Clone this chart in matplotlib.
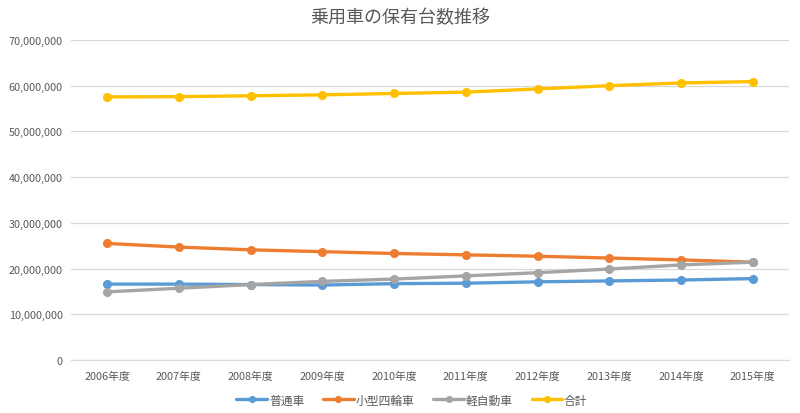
import matplotlib
matplotlib.use("Agg")
import matplotlib.pyplot as plt
from matplotlib.ticker import FuncFormatter

plt.rcParams['font.family'] = ['Noto Sans CJK JP', 'DejaVu Sans']

categories = ['2006年度', '2007年度', '2008年度', '2009年度', '2010年度',
              '2011年度', '2012年度', '2013年度', '2014年度', '2015年度']
futsu = [16.6e6, 16.6e6, 16.5e6, 16.4e6, 16.7e6, 16.8e6, 17.1e6, 17.3e6, 17.5e6, 17.8e6]
kogata = [25.5e6, 24.7e6, 24.1e6, 23.7e6, 23.3e6, 23.0e6, 22.7e6, 22.3e6, 21.9e6, 21.4e6]
kei = [14.9e6, 15.7e6, 16.5e6, 17.2e6, 17.7e6, 18.4e6, 19.1e6, 19.9e6, 20.8e6, 21.4e6]
total = [57.55e6, 57.6e6, 57.8e6, 58.0e6, 58.3e6, 58.6e6, 59.3e6, 60.0e6, 60.6e6, 60.9e6]
series_names = ['普通車', '小型四輪車', '軽自動車', '合計']
colors = ['#5B9BD5', '#ED7D31', '#A5A5A5', '#FFC000']

fig = plt.figure(figsize=(8, 4.14), dpi=100)
ax = fig.add_axes([0.089, 0.128, 0.897, 0.773])

x = list(range(len(categories)))
for vals, name, c in zip([futsu, kogata, kei, total], series_names, colors):
    ax.plot(x, vals, color=c, lw=2.4, marker='o', ms=5.5, label=name, solid_capstyle='round')

ax.set_xlim(-0.5, len(categories) - 0.5)
ax.set_ylim(0, 70e6)
ax.set_yticks([i * 10e6 for i in range(8)])
ax.yaxis.set_major_formatter(FuncFormatter(lambda v, p: f'{int(v):,}'))
ax.set_xticks(x)
ax.set_xticklabels(categories)
ax.grid(axis='y', color='#D9D9D9', lw=0.9)
ax.set_axisbelow(True)
for s in ['top', 'right', 'left']:
    ax.spines[s].set_visible(False)
ax.spines['bottom'].set_color('#D9D9D9')
ax.tick_params(axis='both', length=0, labelsize=7.8, colors='#595959')
ax.tick_params(axis='y', pad=6)
ax.tick_params(axis='x', pad=8)

fig.suptitle('乗用車の保有台数推移', y=0.978, fontsize=13, color='#595959')
fig.legend(loc='lower center', bbox_to_anchor=(0.515, -0.01), ncol=4, frameon=False,
           fontsize=8.5, labelcolor='#595959', handlelength=2.6, handletextpad=0.15,
           columnspacing=1.6, markerscale=0.75)

fig.savefig('out.png', dpi=100)
